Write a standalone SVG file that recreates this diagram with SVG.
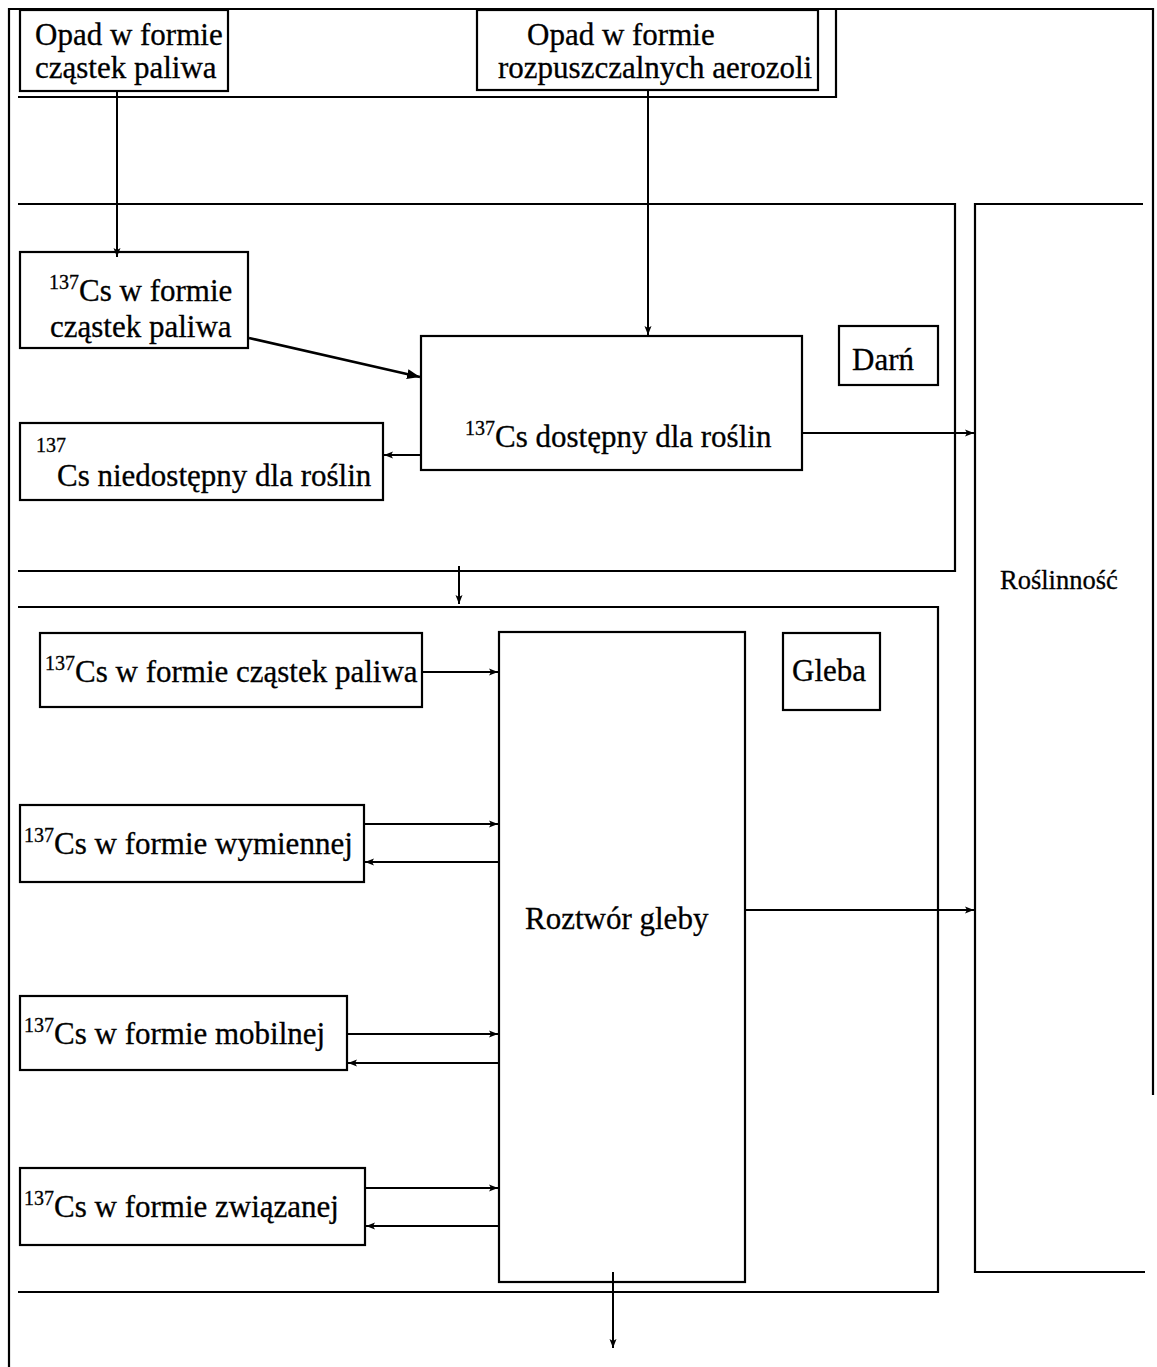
<svg xmlns="http://www.w3.org/2000/svg" width="1157" height="1367" viewBox="0 0 1157 1367">
<style>
.frame{fill:none;stroke:#000;stroke-width:2.2}
.box{fill:#fff;stroke:#000;stroke-width:2.2}
.t{font-family:"Liberation Serif","Times New Roman",serif;font-size:31px;fill:#000;stroke:#000;stroke-width:0.3}
.sup{font-size:20px}
.conn path{fill:none;stroke:#000;stroke-width:2}
</style>
<defs>
<marker id="ah" markerUnits="userSpaceOnUse" markerWidth="10" markerHeight="8" refX="9" refY="4" orient="auto">
<path d="M0,0.5 L9,4 L0,7.5 L2,4 z" fill="#000"/>
</marker>
<marker id="ahb" markerUnits="userSpaceOnUse" markerWidth="14" markerHeight="10" refX="13" refY="5" orient="auto">
<path d="M0,0 L13,5 L0,10 z" fill="#000"/>
</marker>
</defs>
<rect width="1157" height="1367" fill="#fff"/>
<g id="frame">
<path class="frame" d="M9,1367 V9 H1153 V1095"/>
<path class="frame" d="M836,9 V97 H18"/>
</g>
<g id="darn-section"><path class="frame" d="M18,204 H955 V571 H18"/></g>
<g id="gleba-section"><path class="frame" d="M18,607 H938 V1292 H18"/></g>
<g id="roslinnosc">
<path class="frame" d="M1143,204 H975 V1272 H1145"/>
<text class="t" x="1000" y="589" style="font-size:26.5px">Roślinność</text>
</g>
<g id="opad-paliwo">
<rect class="box" x="20" y="10" width="208" height="81"/>
<text class="t" x="35" y="45">Opad w formie</text>
<text class="t" x="35" y="78">cząstek paliwa</text>
</g>
<g id="opad-aerozole">
<rect class="box" x="477" y="10" width="341" height="80"/>
<text class="t" x="527" y="45">Opad w formie</text>
<text class="t" x="498" y="78">rozpuszczalnych aerozoli</text>
</g>
<g id="cs-czastki-darn">
<rect class="box" x="20" y="252" width="228" height="96"/>
<text class="t" x="49" y="301"><tspan class="sup" dy="-12">137</tspan><tspan dy="12">Cs w formie</tspan></text>
<text class="t" x="50" y="337">cząstek paliwa</text>
</g>
<g id="cs-niedostepny">
<rect class="box" x="20" y="423" width="363" height="77"/>
<text class="t" x="36" y="452"><tspan class="sup">137</tspan></text>
<text class="t" x="57" y="486">Cs niedostępny dla roślin</text>
</g>
<g id="cs-dostepny">
<rect class="box" x="421" y="336" width="381" height="134"/>
<text class="t" x="465" y="447"><tspan class="sup" dy="-12">137</tspan><tspan dy="12">Cs dostępny dla roślin</tspan></text>
</g>
<g id="darn">
<rect class="box" x="839" y="326" width="99" height="59"/>
<text class="t" x="852" y="370">Darń</text>
</g>
<g id="cs-czastki-gleba">
<rect class="box" x="40" y="633" width="382" height="74"/>
<text class="t" x="45" y="682"><tspan class="sup" dy="-12">137</tspan><tspan dy="12">Cs w formie cząstek paliwa</tspan></text>
</g>
<g id="gleba">
<rect class="box" x="783" y="633" width="97" height="77"/>
<text class="t" x="792" y="681">Gleba</text>
</g>
<g id="roztwor">
<rect class="box" x="499" y="632" width="246" height="650"/>
<text class="t" x="525" y="929">Roztwór gleby</text>
</g>
<g id="cs-wymienna">
<rect class="box" x="20" y="805" width="344" height="77"/>
<text class="t" x="24" y="854"><tspan class="sup" dy="-12">137</tspan><tspan dy="12">Cs w formie wymiennej</tspan></text>
</g>
<g id="cs-mobilna">
<rect class="box" x="20" y="996" width="327" height="74"/>
<text class="t" x="24" y="1044"><tspan class="sup" dy="-12">137</tspan><tspan dy="12">Cs w formie mobilnej</tspan></text>
</g>
<g id="cs-zwiazana">
<rect class="box" x="20" y="1168" width="345" height="77"/>
<text class="t" x="24" y="1217"><tspan class="sup" dy="-12">137</tspan><tspan dy="12">Cs w formie związanej</tspan></text>
</g>
<g id="connectors" class="conn">
<path d="M117,92 V257" marker-end="url(#ah)"/>
<path d="M648,90 V335" marker-end="url(#ah)"/>
<path d="M249,338 L420,377" marker-end="url(#ahb)" style="stroke-width:2.5"/>
<path d="M421,455 H384" marker-end="url(#ah)"/>
<path d="M802,433 H974" marker-end="url(#ah)"/>
<path d="M459,566 V604" marker-end="url(#ah)"/>
<path d="M422,672 H498" marker-end="url(#ah)"/>
<path d="M364,824 H498" marker-end="url(#ah)"/>
<path d="M499,862 H365" marker-end="url(#ah)"/>
<path d="M347,1034 H498" marker-end="url(#ah)"/>
<path d="M499,1063 H348" marker-end="url(#ah)"/>
<path d="M365,1188 H498" marker-end="url(#ah)"/>
<path d="M499,1226 H366" marker-end="url(#ah)"/>
<path d="M745,910 H974" marker-end="url(#ah)"/>
<path d="M613,1272 V1348" marker-end="url(#ah)"/>
</g>
</svg>
